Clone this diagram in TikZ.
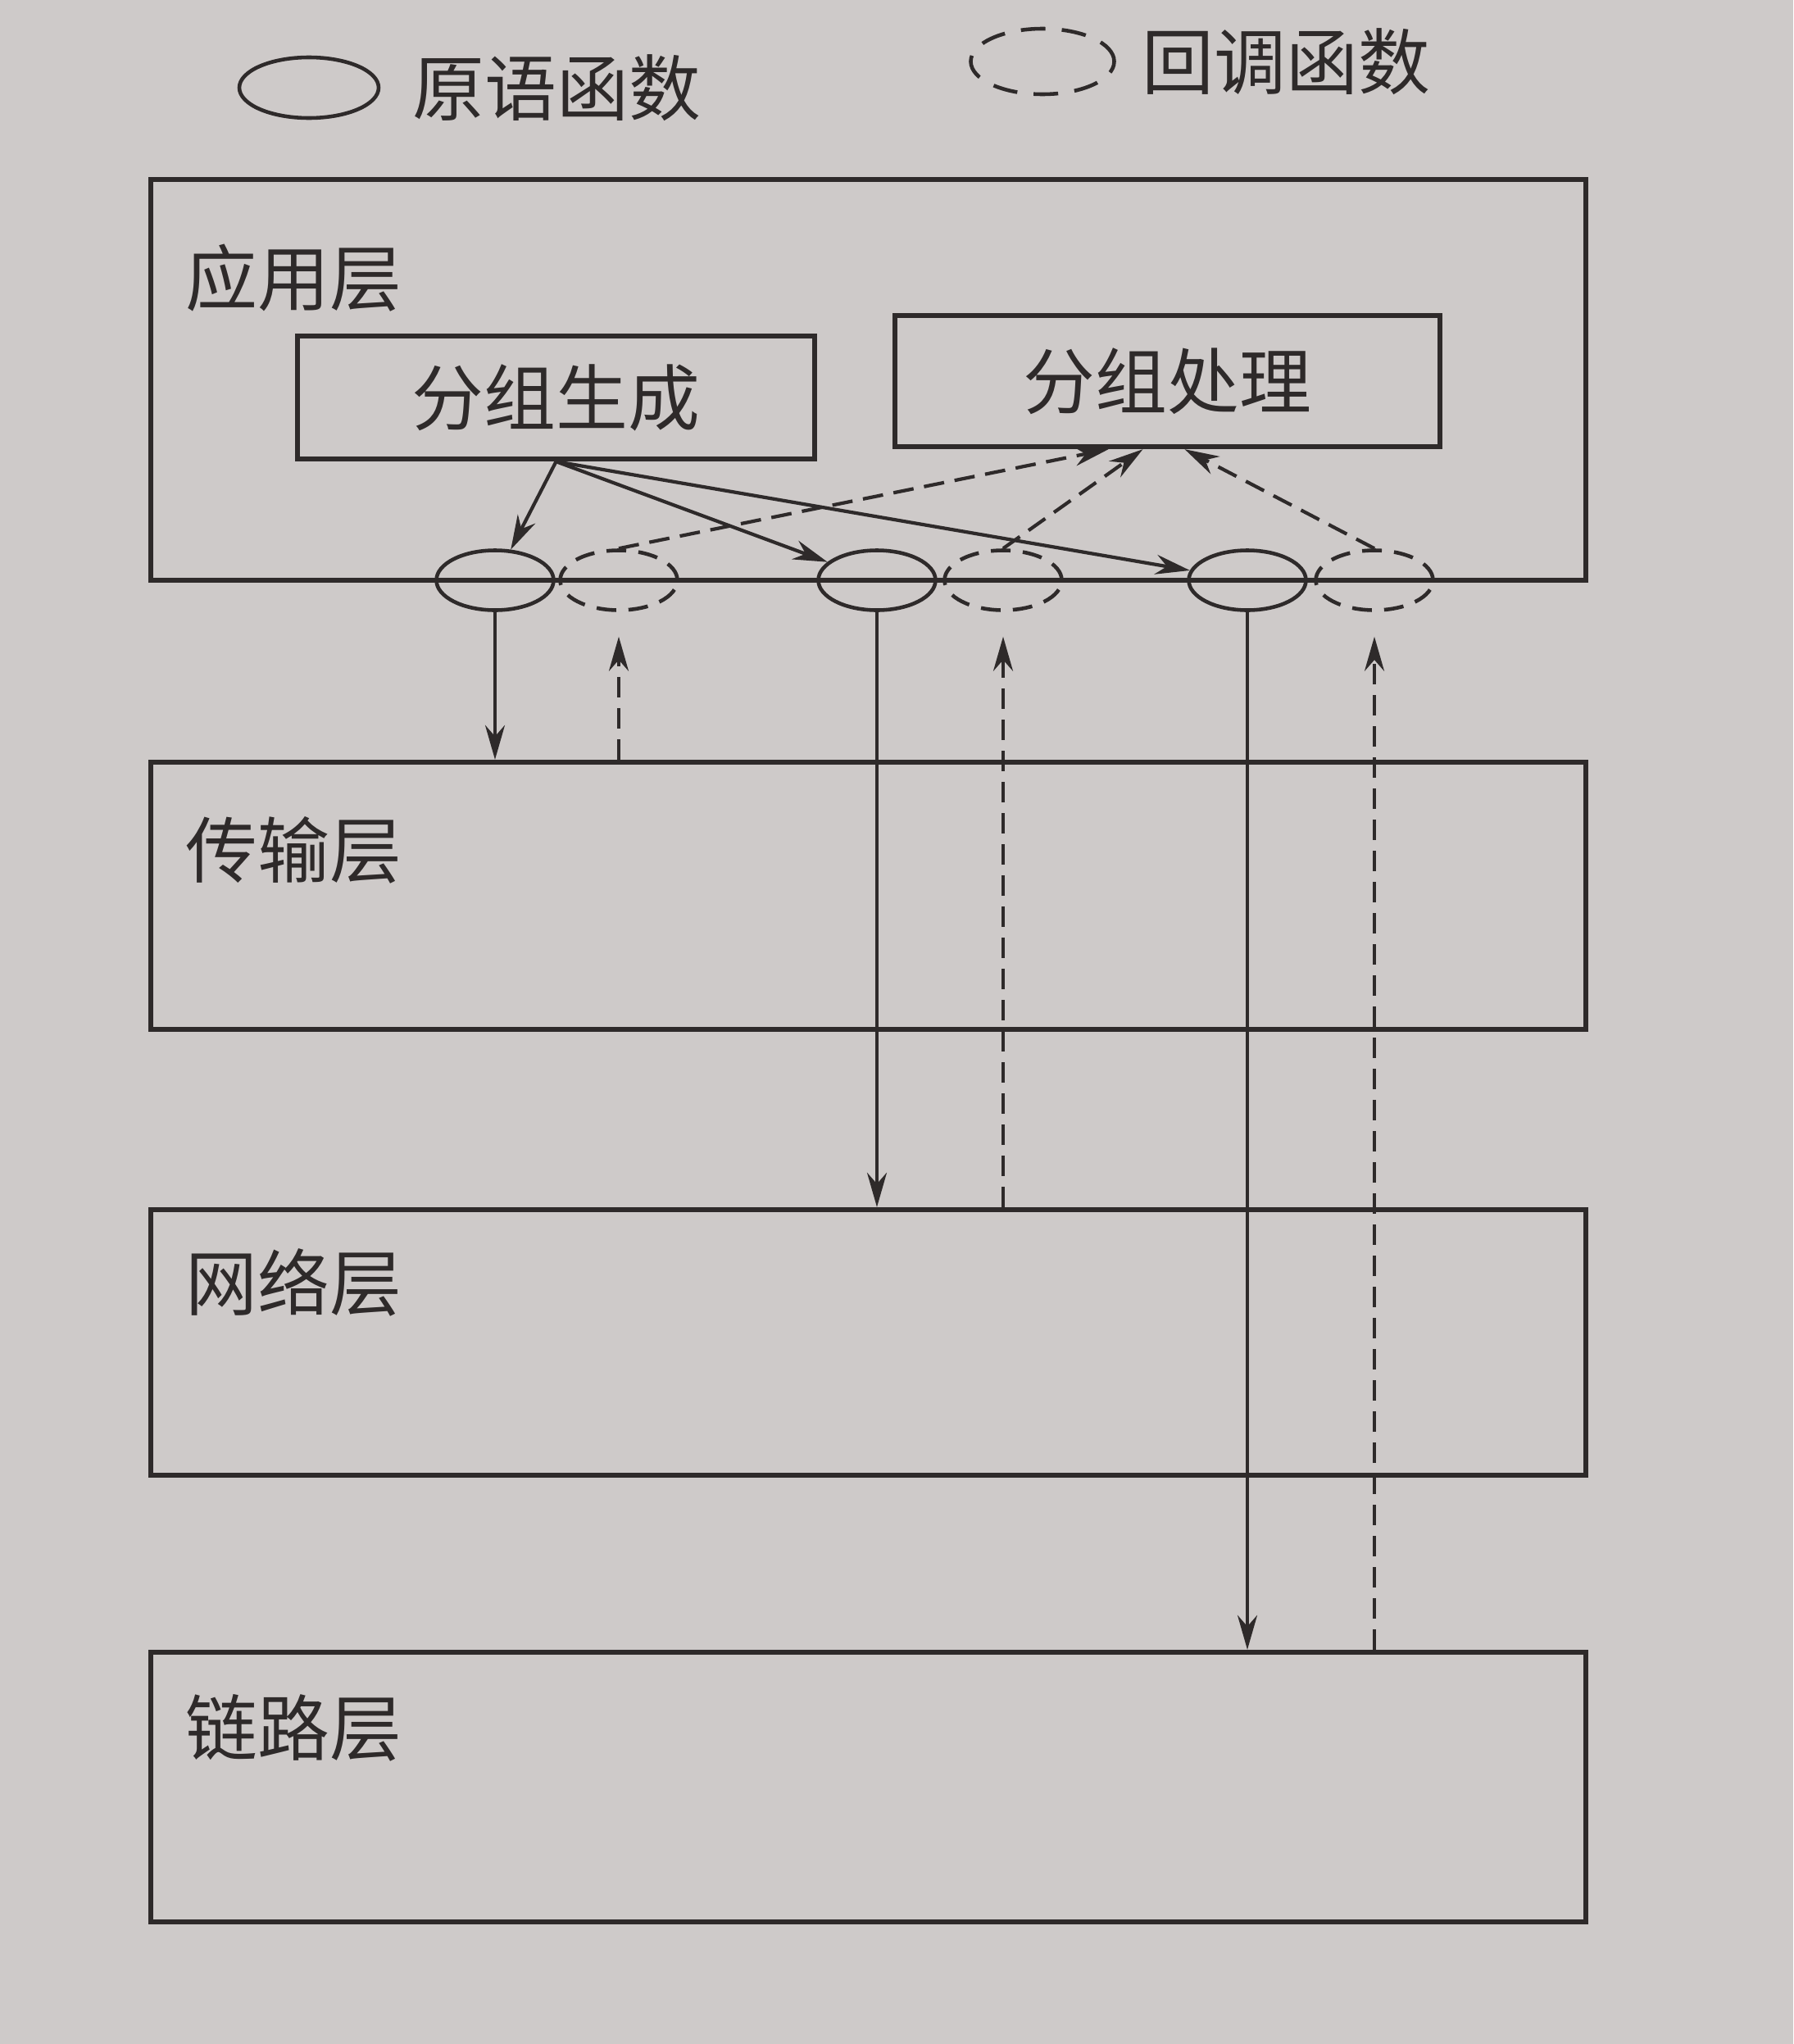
\documentclass[tikz,border=0pt]{standalone}
\usepackage{fontspec}
\setmainfont{Noto Sans CJK SC}
\usetikzlibrary{positioning, shapes.geometric, arrows.meta, calc}
\definecolor{papier}{RGB}{206,202,201}
\definecolor{encre}{RGB}{46,42,42}

\begin{document}
\begin{tikzpicture}[
    couche/.style={draw=encre, line width=1.8pt, rectangle, minimum width=17.51cm, inner sep=0pt},
    boite/.style={draw=encre, line width=1.8pt, rectangle, inner sep=0pt, text=encre,
      font=\fontsize{25}{30}\selectfont},
    titre/.style={anchor=west, inner sep=0pt, text=encre, font=\fontsize{25}{30}\selectfont},
    prim/.style={draw=encre, ellipse, line width=1.3pt, minimum width=1.43cm,
      minimum height=0.73cm, inner sep=0pt},
    rappel/.style={prim, dash pattern=on 0.24cm off 0.15cm},
    fleche/.style={draw=encre, line width=1.2pt, -{Stealth[length=0.42cm,width=0.24cm]}},
    tirets/.style={fleche, dash pattern=on 0.25cm off 0.13cm},
  ]
  \fill[papier] (0,0) rectangle (21.88,-24.94);

  % La legende
  \node[prim, minimum width=1.7cm, minimum height=0.74cm] at (3.77,-1.07) (lprim) {};
  \node[titre, right=0.39cm of lprim] (tprim) {原语函数};
  \node[rappel, minimum width=1.75cm, minimum height=0.8cm,
    dash pattern=on 0.3cm off 0.2cm] at (12.72,-0.75) (lrappel) {};
  \node[titre, right=0.31cm of lrappel] (trappel) {回调函数};

  % Les couches
  \foreach \nom/\y/\h/\dy/\texte in {app/-4.635/4.89/1.23/应用层, trans/-10.93/3.26/1.11/传输层,
      net/-16.38/3.24/0.92/网络层, link/-21.805/3.29/0.96/链路层} {
    \node[couche, minimum height=\h cm] at (10.595,\y) (\nom) {};
    \node[titre] at ($(\nom.north west)+(0.45,-\dy)$) (t\nom) {\texte};
  }

  % Les boites de l'application
  \node[boite, minimum width=6.31cm, minimum height=1.5cm] at (6.785,-4.85) (gen) {分组生成};
  \node[boite, minimum width=6.65cm, minimum height=1.6cm] at (14.245,-4.65) (proc) {分组处理};

  % Les fonctions
  \foreach \i/\xs/\xd in {1/6.04/7.55, 2/10.70/12.24, 3/15.22/16.77} {
    \node[prim] at (\xs,-7.08) (s\i) {};
    \node[rappel] at (\xd,-7.08) (d\i) {};
  }

  % Les appels
  \foreach \i in {1,2,3} \draw[fleche] (gen.south) -- (s\i);
  \foreach \i/\dx in {1/-0.72, 2/-0.30, 3/0.21}
    \draw[tirets] (d\i.north) -- ($(proc.south)+(\dx,0)$);

  % Vers les couches basses
  \foreach \i/\bas in {1/trans, 2/net, 3/link} {
    \draw[fleche] (s\i.south) -- (s\i.south |- \bas.north);
    \draw[tirets, shorten >=0.3cm] (d\i.south |- \bas.north) -- (d\i.south);
  }
\end{tikzpicture}
\end{document}
